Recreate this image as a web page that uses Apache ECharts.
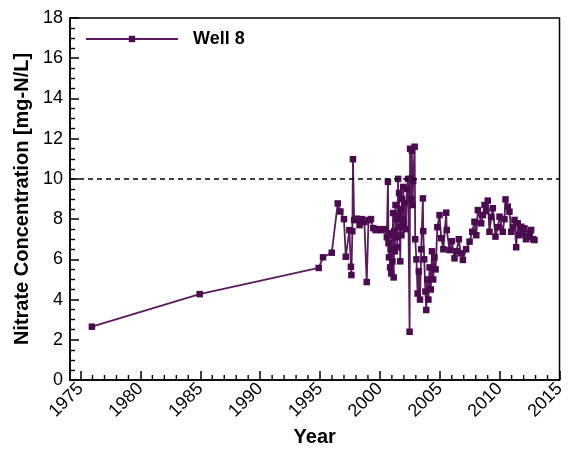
<!DOCTYPE html>
<html>
<head>
<meta charset="utf-8">
<script src="https://cdn.jsdelivr.net/npm/echarts@6/dist/echarts.min.js"></script>
<style>
  html, body { margin: 0; padding: 0; background: #fff; }
  #chart { width: 568px; height: 457px; }
</style>
</head>
<body>
<div id="chart"></div>
<script>
// Sampling dates (decimal years) for Well 8
const years = [
  1975.95, 1984.95, 1994.89, 1995.25, 1995.98, 1996.48, 1996.70, 1997.00, 1997.15, 1997.45,
  1997.58, 1997.62, 1997.70, 1997.75, 1997.85, 1998.05, 1998.30, 1998.50, 1998.70, 1998.90,
  1999.05, 1999.25, 1999.45, 1999.65, 1999.90, 2000.15, 2000.40, 2000.58, 2000.67, 2000.72,
  2000.76, 2000.80, 2000.85, 2000.90, 2000.95, 2001.00, 2001.05, 2001.10, 2001.15, 2001.20,
  2001.25, 2001.30, 2001.35, 2001.40, 2001.45, 2001.52, 2001.56, 2001.60, 2001.65, 2001.70,
  2001.75, 2001.80, 2001.85, 2001.90, 2001.95, 2002.00, 2002.05, 2002.15, 2002.25, 2002.35,
  2002.48, 2002.52, 2002.58, 2002.62, 2002.67, 2002.72, 2002.78, 2002.90, 2002.95, 2003.05,
  2003.15, 2003.25, 2003.35, 2003.45, 2003.59, 2003.62, 2003.70, 2003.80, 2003.87, 2003.95,
  2004.05, 2004.15, 2004.25, 2004.35, 2004.45, 2004.56, 2004.65, 2004.80, 2004.98, 2005.12,
  2005.30, 2005.54, 2005.58, 2005.82, 2006.00, 2006.23, 2006.40, 2006.59, 2006.75, 2006.93,
  2007.20, 2007.49, 2007.71, 2007.90, 2008.05, 2008.18, 2008.46, 2008.60, 2008.74, 2008.88,
  2009.01, 2009.15, 2009.30, 2009.43, 2009.65, 2009.85, 2009.99, 2010.26, 2010.40, 2010.49,
  2010.68, 2010.82, 2010.96, 2011.10, 2011.24, 2011.38, 2011.51, 2011.65, 2011.80, 2011.95,
  2012.07, 2012.20, 2012.35, 2012.50, 2012.63, 2012.78, 2012.91
];

// Nitrate concentration, mg-N/L
const nitrate = [
  2.65, 4.27, 5.57, 6.10, 6.33, 8.78, 8.38, 8.00, 6.13, 7.45,
  5.63, 5.22, 7.40, 10.98, 7.95, 8.02, 7.70, 8.00, 7.85, 4.87,
  7.95, 8.00, 7.55, 7.45, 7.50, 7.45, 7.50, 7.10, 9.85, 6.80,
  6.10, 7.30, 5.60, 6.50, 5.30, 7.20, 5.90, 8.30, 5.10, 7.40,
  6.40, 8.70, 7.10, 8.00, 6.60, 10.00, 8.20, 9.30, 7.60, 5.90,
  8.50, 7.20, 9.00, 8.00, 9.60, 7.80, 8.80, 7.50, 9.50, 10.00,
  2.40, 11.50, 10.00, 9.00, 11.40, 8.70, 9.90, 11.60, 7.00, 6.00,
  4.30, 5.40, 4.00, 6.50, 9.03, 7.40, 6.00, 4.40, 3.48, 5.00,
  4.00, 5.60, 4.50, 6.40, 5.00, 6.10, 5.50, 7.60, 8.20, 7.05,
  6.50, 8.32, 7.46, 6.46, 6.90, 6.05, 6.40, 7.00, 6.30, 5.97,
  6.50, 6.88, 7.37, 7.87, 7.20, 8.45, 7.79, 8.20, 8.70, 8.40,
  8.92, 7.37, 8.10, 8.54, 7.13, 7.60, 8.12, 7.37, 8.00, 8.98,
  8.62, 8.37, 7.37, 7.60, 7.96, 6.60, 7.79, 7.20, 7.62, 7.30,
  7.54, 7.00, 7.13, 7.30, 7.46, 7.00, 6.96
];

// Axis ticks and labels
const yearLabels = [1975, 1980, 1985, 1990, 1995, 2000, 2005, 2010, 2015];
const yearMinor = [];
for (let y = 1976; y <= 2014; y++) if (y % 5 !== 0) yearMinor.push(y);
const standardLimit = 10;

const points = years.map((y, i) => [y, nitrate[i]]);

const chart = echarts.init(document.getElementById('chart'), null, { renderer: 'canvas' });

const lineColor = '#5a1a5e';
const markColor = '#4a0c4f';
const font = '"Liberation Sans", Arial, sans-serif';

chart.setOption({
  animation: false,
  backgroundColor: '#ffffff',
  grid: {
    left: 70, right: 8, top: 18, bottom: 77,
    show: true, borderColor: '#000', borderWidth: 1.5, backgroundColor: 'transparent'
  },
  legend: {
    left: 80, top: 25,
    itemWidth: 92, itemHeight: 8,
    itemGap: 0,
    data: ['Well 8'],
    textStyle: { fontFamily: font, fontWeight: 'bold', fontSize: 18, color: '#000', padding: [0, 0, 0, 10] }
  },
  xAxis: {
    type: 'value', min: 1974.12, max: 2015,
    name: 'Year', nameLocation: 'middle', nameGap: 44,
    nameTextStyle: { fontFamily: font, fontWeight: 'bold', fontSize: 20, color: '#000' },
    axisLine: { show: true, lineStyle: { color: '#000', width: 1.5 } },
    axisTick: { show: true, inside: true, length: 9, customValues: yearLabels, lineStyle: { color: '#000', width: 1.5 } },
    axisLabel: {
      customValues: yearLabels, rotate: 45, margin: 6,
      formatter: v => String(Math.round(v)),
      fontFamily: font, fontSize: 18, color: '#000'
    },
    splitLine: { show: false }
  },
  yAxis: {
    type: 'value', min: 0, max: 18, interval: 2,
    name: 'Nitrate Concentration [mg-N/L]', nameLocation: 'middle', nameGap: 38,
    nameTextStyle: { fontFamily: font, fontWeight: 'bold', fontSize: 20, color: '#000' },
    axisLine: { show: true, lineStyle: { color: '#000', width: 1.5 } },
    axisTick: { show: true, inside: true, length: 9, lineStyle: { color: '#000', width: 1.5 } },
    minorTick: { show: true, splitNumber: 4, length: 5, lineStyle: { color: '#000', width: 1.4 } },
    axisLabel: { margin: 7, fontFamily: font, fontSize: 18, color: '#000' },
    splitLine: { show: false }
  },
  series: [
    {
      // yearly minor ticks along the time axis
      name: 'yearTicks',
      type: 'custom',
      silent: true,
      data: yearMinor.map(y => [y, 0]),
      renderItem: (params, api) => {
        const p = api.coord([api.value(0), api.value(1)]);
        return {
          type: 'line',
          shape: { x1: p[0], y1: p[1], x2: p[0], y2: p[1] - 5 },
          style: { stroke: '#000', lineWidth: 1.4 }
        };
      },
      clip: false,
      z: 1
    },
    {
      name: 'Well 8',
      type: 'line',
      data: points,
      symbol: 'rect',
      symbolSize: 6.5,
      showAllSymbol: true,
      lineStyle: { color: lineColor, width: 1.8 },
      itemStyle: { color: markColor },
      z: 3,
      markLine: {
        silent: true,
        symbol: ['none', 'none'],
        label: { show: false },
        lineStyle: { color: '#000', type: [5, 4], width: 1.5 },
        data: [{ yAxis: standardLimit }]
      }
    }
  ]
});
</script>
</body>
</html>
